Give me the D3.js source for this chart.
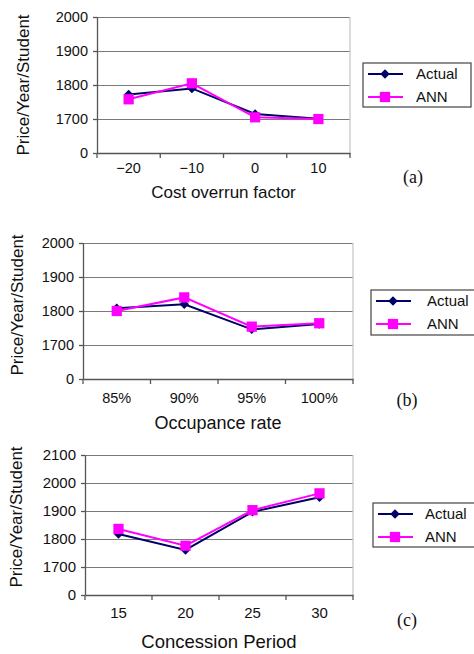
<!DOCTYPE html>
<html>
<head>
<meta charset="utf-8">
<script src="https://cdn.jsdelivr.net/npm/d3@7"></script>
<style>
  body { margin: 0; background: #fff; }
  svg { display: block; font-family: "Liberation Sans", Arial, sans-serif; }
  .grid line { stroke: #7a7a7a; stroke-width: 1.2; }
  .grid path { display: none; }
  .axis path, .axis line { stroke: #555; stroke-width: 1.3; }
</style>
</head>
<body>
<svg id="chart" width="474" height="654"></svg>
<script>
// series names + colours
const seriesNames = ['Actual', 'ANN'];

// (a) cost overrun factor
const costFactors = ['\u221220', '\u221210', '0', '10'];
const costActual = [1772, 1790, 1715, 1701];
const costANN = [1758, 1805, 1705, 1698];

// (b) occupance rate
const occupancyRates = ['85%', '90%', '95%', '100%'];
const occActual = [1808, 1820, 1746, 1762];
const occANN = [1800, 1840, 1754, 1764];

// (c) concession period
const concessionPeriods = ['15', '20', '25', '30'];
const concActual = [1818, 1761, 1897, 1949];
const concANN = [1836, 1776, 1903, 1963];

// y ticks (broken axis: 0 then 1700 upwards)
const yTicksAB = [0, 1700, 1800, 1900, 2000];
const yTicksC = [0, 1700, 1800, 1900, 2000, 2100];

class PanelChart {

  constructor(_config, _data) {
    this.config = {
      parentElement: _config.parentElement,
      left: _config.left,
      right: _config.right,
      top: _config.top,
      bottom: _config.bottom,
      yTicks: _config.yTicks,
      xTitle: _config.xTitle,
      xTitleY: _config.xTitleY,
      xLabelGap: _config.xLabelGap || 12,
      tickFont: _config.tickFont || 14.5,
      titleFont: _config.titleFont || 17,
      yTitleX: _config.yTitleX,
      yTitleY: _config.yTitleY,
      legend: _config.legend,
      tag: _config.tag
    }
    this.data = _data;
    this.initVis();
  }

  initVis() {
    let vis = this;
    const c = vis.config;

    vis.width = c.right - c.left;
    vis.height = c.bottom - c.top;

    vis.svg = d3.select(c.parentElement);
    vis.chart = vis.svg.append('g')
      .attr('transform', `translate(${c.left},${c.top})`);

    vis.xScale = d3.scaleBand()
      .domain(vis.data.categories)
      .range([0, vis.width])
      .padding(0);

    const nBands = c.yTicks.length - 1;
    const yMax = c.yTicks[c.yTicks.length - 1];
    vis.yScale = d3.scaleLinear()
      .domain([0, 1700, yMax])
      .range([vis.height, vis.height - vis.height / nBands, 0]);

    // gridlines
    vis.chart.append('g')
      .attr('class', 'grid')
      .call(d3.axisLeft(vis.yScale).tickValues(c.yTicks.slice(1)).tickSize(-vis.width).tickFormat(''));

    // light right border of plot area
    vis.chart.append('line')
      .attr('x1', vis.width).attr('x2', vis.width)
      .attr('y1', 0).attr('y2', vis.height)
      .attr('stroke', '#c4c4c4').attr('stroke-width', 1.2);

    vis.yAxis = d3.axisLeft(vis.yScale)
      .tickValues(c.yTicks)
      .tickFormat(d3.format('d'))
      .tickSize(4)
      .tickPadding(5)
      .tickSizeOuter(0);

    vis.xAxis = d3.axisBottom(vis.xScale)
      .tickSize(0)
      .tickSizeOuter(0);

    vis.xAxisG = vis.chart.append('g')
      .attr('class', 'axis x-axis')
      .attr('transform', `translate(0,${vis.height})`);

    vis.yAxisG = vis.chart.append('g')
      .attr('class', 'axis y-axis');

    vis.renderVis();
  }

  renderVis() {
    let vis = this;
    const c = vis.config;

    vis.yAxisG.call(vis.yAxis);
    vis.yAxisG.selectAll('text')
      .attr('font-size', c.tickFont + 'px')
      .attr('fill', '#111');

    vis.xAxisG.call(vis.xAxis);
    vis.xAxisG.selectAll('text')
      .attr('y', c.xLabelGap)
      .attr('dy', '0.35em')
      .attr('font-size', c.tickFont + 'px')
      .attr('fill', '#111');

    // tick marks between categories (Excel style)
    const step = vis.xScale.step();
    vis.xAxisG.selectAll('.between')
      .data(d3.range(vis.data.categories.length + 1))
      .join('line')
        .attr('class', 'between')
        .attr('x1', i => i * step).attr('x2', i => i * step)
        .attr('y1', 0).attr('y2', 5);

    const xc = d => vis.xScale(d) + vis.xScale.bandwidth() / 2;
    const line = d3.line()
      .x(d => xc(d.cat))
      .y(d => vis.yScale(d.value));

    vis.data.series.forEach(s => {
      const pts = vis.data.categories.map((cat, i) => ({cat, value: s.values[i]}));
      vis.chart.append('path')
        .datum(pts)
        .attr('fill', 'none')
        .attr('stroke', s.color)
        .attr('stroke-width', 2)
        .attr('d', line);

      vis.chart.selectAll('.m-' + s.key)
        .data(pts)
        .join('path')
          .attr('class', 'm-' + s.key)
          .attr('transform', d => `translate(${xc(d.cat)},${vis.yScale(d.value)})` + (s.marker === 'diamond' ? ' rotate(45)' : ''))
          .attr('d', d3.symbol(d3.symbolSquare, s.marker === 'diamond' ? 45 : 105)())
          .attr('fill', s.color);
    });

    // axis titles
    vis.svg.append('text')
      .attr('x', c.left + vis.width / 2)
      .attr('y', c.xTitleY)
      .attr('dy', '0.35em')
      .attr('text-anchor', 'middle')
      .attr('font-size', c.titleFont + 'px')
      .attr('fill', '#111')
      .text(c.xTitle);

    vis.svg.append('text')
      .attr('transform', `translate(${c.yTitleX},${c.yTitleY}) rotate(-90)`)
      .attr('dy', '0.35em')
      .attr('text-anchor', 'middle')
      .attr('font-size', '17px')
      .attr('fill', '#111')
      .text('Price/Year/Student');

    // legend
    const lg = c.legend;
    const leg = vis.svg.append('g').attr('transform', `translate(${lg.x},${lg.y})`);
    leg.append('rect')
      .attr('width', lg.w).attr('height', lg.h)
      .attr('fill', '#fff').attr('stroke', '#444').attr('stroke-width', 1.2);

    vis.data.series.forEach((s, i) => {
      const ry = i === 0 ? 11 : 34;
      leg.append('line')
        .attr('x1', 5).attr('x2', 40)
        .attr('y1', ry).attr('y2', ry)
        .attr('stroke', s.color).attr('stroke-width', 2);
      leg.append('path')
        .attr('transform', `translate(22,${ry})` + (s.marker === 'diamond' ? ' rotate(45)' : ''))
        .attr('d', d3.symbol(d3.symbolSquare, s.marker === 'diamond' ? 45 : 105)())
        .attr('fill', s.color);
      leg.append('text')
        .attr('x', lg.textX).attr('y', ry)
        .attr('dy', '0.35em')
        .attr('font-size', '15px')
        .attr('fill', '#111')
        .text(s.name);
    });

    vis.svg.append('text')
      .attr('x', c.tag.x).attr('y', c.tag.y)
      .attr('dy', '0.35em')
      .attr('text-anchor', 'middle')
      .attr('font-family', '"Liberation Serif", "Times New Roman", serif')
      .attr('font-size', '18px')
      .attr('fill', '#111')
      .text(c.tag.text);
  }
}

const makeSeries = (a, b) => [
  {key: 'actual', name: seriesNames[0], values: a, color: '#000066', marker: 'diamond'},
  {key: 'ann', name: seriesNames[1], values: b, color: '#ff00ff', marker: 'square'}
];

new PanelChart({
  parentElement: '#chart',
  left: 97, right: 350, top: 17, bottom: 153,
  yTicks: yTicksAB,
  xTitle: 'Cost overrun factor', xTitleY: 192, xLabelGap: 15,
  tickFont: 14.5, titleFont: 17,
  yTitleX: 23, yTitleY: 85,
  legend: {x: 363, y: 63, w: 108, h: 44, textX: 53},
  tag: {text: '(a)', x: 413, y: 177}
}, {categories: costFactors, series: makeSeries(costActual, costANN)});

new PanelChart({
  parentElement: '#chart',
  left: 83, right: 353, top: 243, bottom: 379,
  yTicks: yTicksAB,
  xTitle: 'Occupance rate', xTitleY: 423, xLabelGap: 19,
  tickFont: 14.5, titleFont: 18,
  yTitleX: 17, yTitleY: 305,
  legend: {x: 371, y: 290, w: 108, h: 45, textX: 56},
  tag: {text: '(b)', x: 407, y: 400}
}, {categories: occupancyRates, series: makeSeries(occActual, occANN)});

new PanelChart({
  parentElement: '#chart',
  left: 85, right: 353, top: 455, bottom: 595,
  yTicks: yTicksC,
  xTitle: 'Concession Period', xTitleY: 642, xLabelGap: 18,
  tickFont: 15, titleFont: 18.5,
  yTitleX: 16, yTitleY: 517,
  legend: {x: 373, y: 503, w: 106, h: 44, textX: 52},
  tag: {text: '(c)', x: 407, y: 620}
}, {categories: concessionPeriods, series: makeSeries(concActual, concANN)});
</script>
</body>
</html>
